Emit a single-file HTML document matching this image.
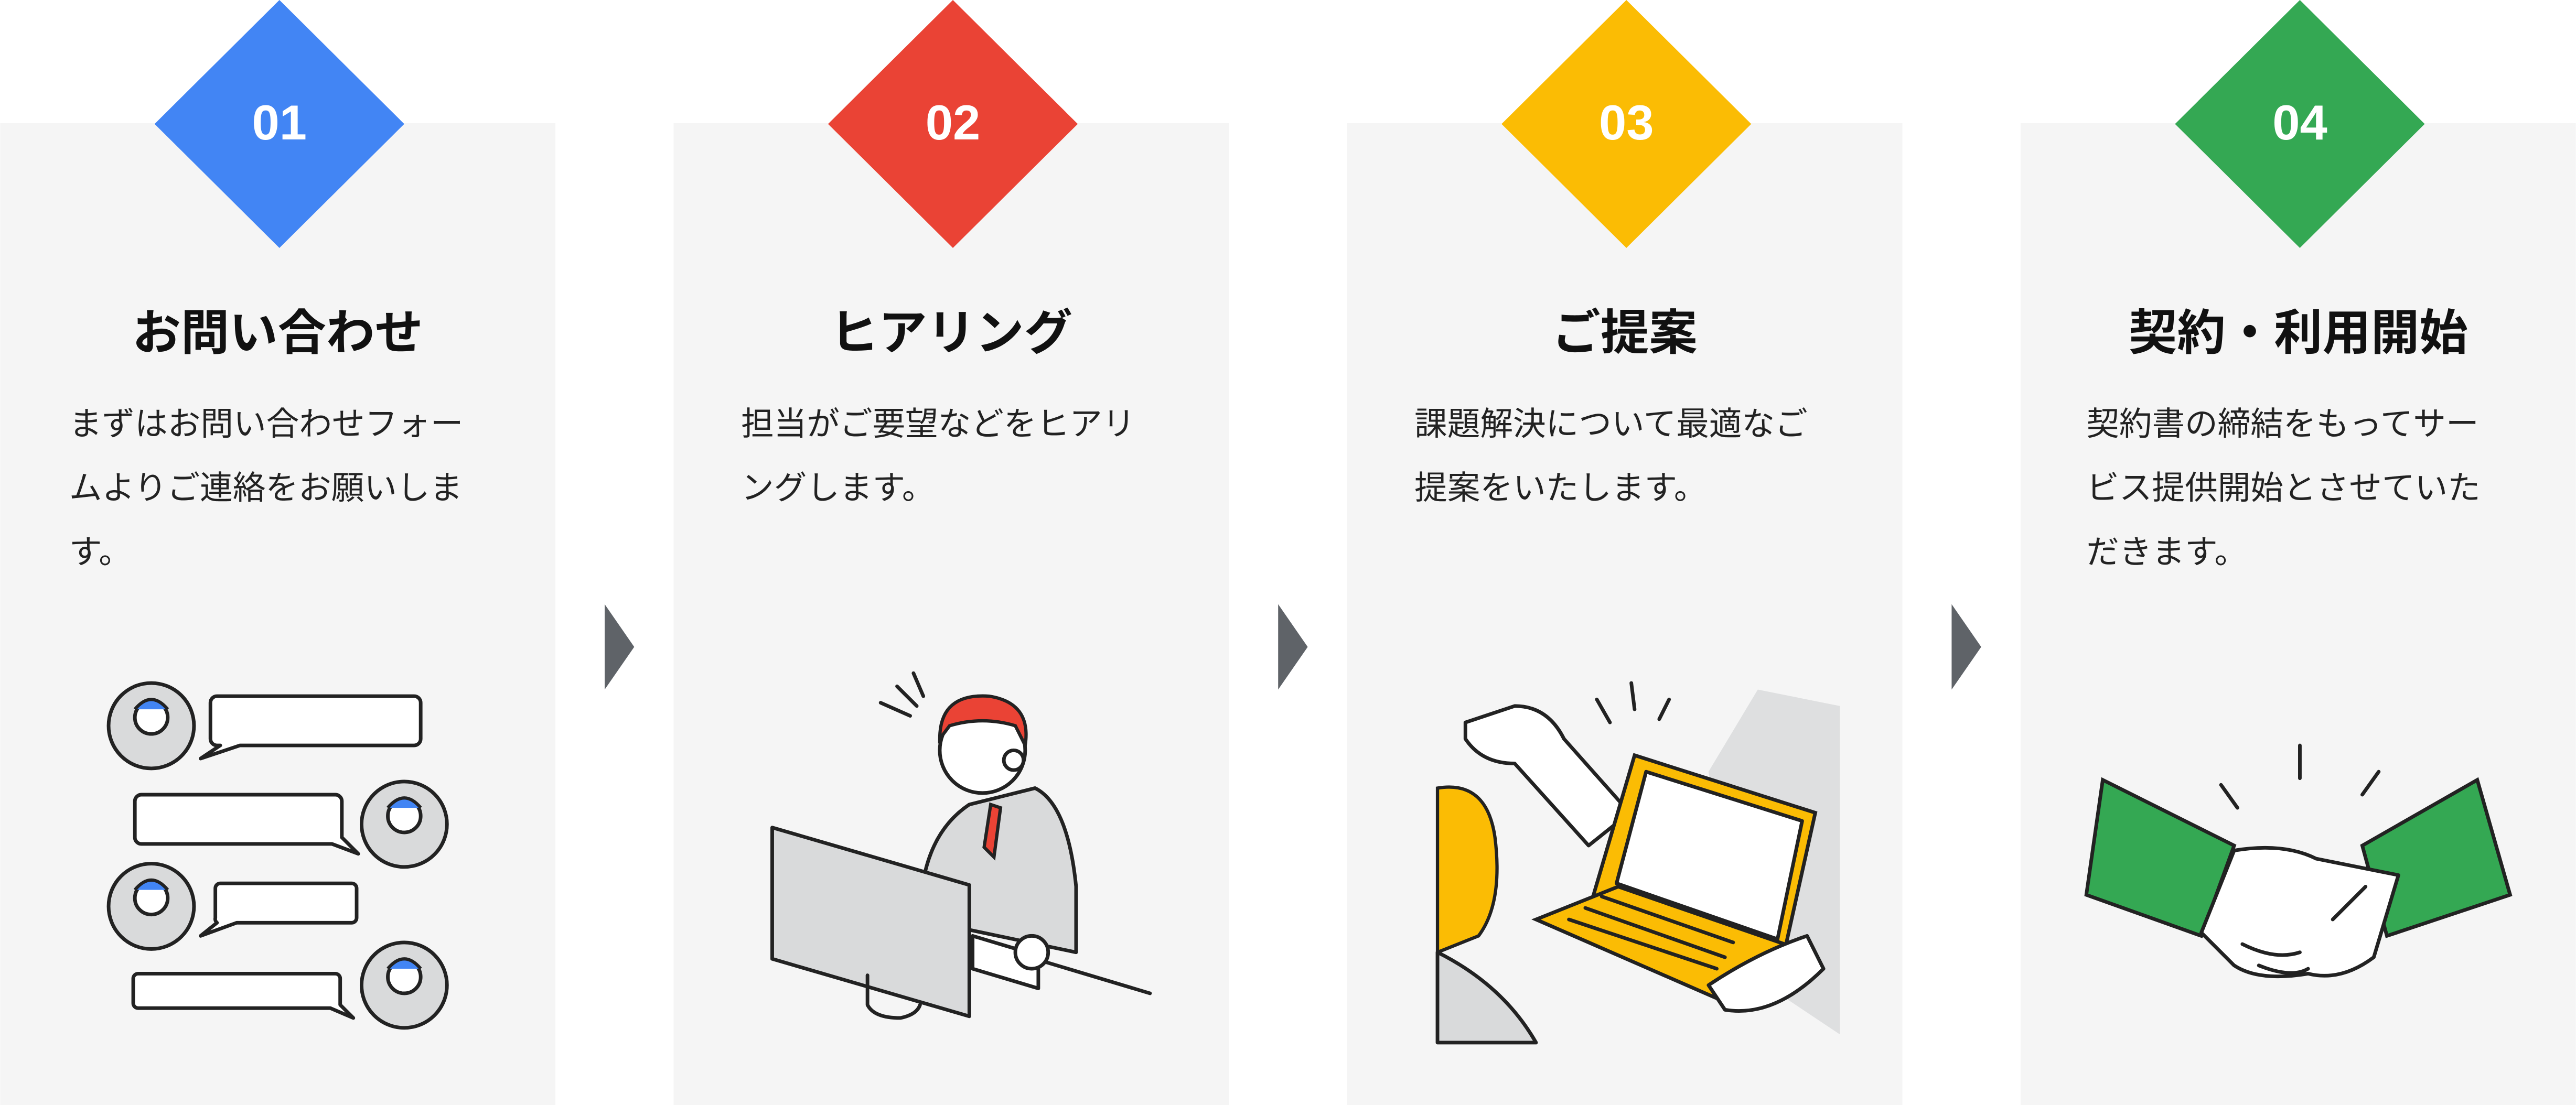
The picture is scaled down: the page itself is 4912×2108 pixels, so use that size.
<!DOCTYPE html>
<html><head><meta charset="utf-8"><style>
html,body{margin:0;padding:0;background:#fff;}
svg{display:block}
.n{font-family:"Liberation Sans","Noto Sans CJK JP",sans-serif;font-weight:700;font-size:30px;fill:#fff;text-anchor:middle}
.t{font-family:"Liberation Sans","Noto Sans CJK JP",sans-serif;font-weight:700;font-size:29.5px;fill:#111;text-anchor:middle}
.b{font-family:"Liberation Sans","Noto Sans CJK JP",sans-serif;font-size:20px;fill:#222}
.k{fill:none;stroke:#222;stroke-width:2.2;stroke-linejoin:round;stroke-linecap:round}
.w{fill:#fff;stroke:#222;stroke-width:2.2;stroke-linejoin:round}
.g{fill:#d9dadb;stroke:#222;stroke-width:2.2;stroke-linejoin:round}
</style></head><body>
<svg width="4912" height="2108" viewBox="0 0 1568 673" xmlns="http://www.w3.org/2000/svg">
<rect width="1568" height="673" fill="#fff"/>
<rect x="0" y="75" width="338" height="598" fill="#f5f5f5"/>
<rect x="410" y="75" width="338" height="598" fill="#f5f5f5"/>
<rect x="820" y="75" width="338" height="598" fill="#f5f5f5"/>
<rect x="1230" y="75" width="338" height="598" fill="#f5f5f5"/>
<polygon points="170,0 246,75.5 170,151 94,75.5" fill="#4285f4"/>
<polygon points="580,0 656,75.5 580,151 504,75.5" fill="#ea4335"/>
<polygon points="990,0 1066,75.5 990,151 914,75.5" fill="#fbbc04"/>
<polygon points="1400,0 1476,75.5 1400,151 1324,75.5" fill="#34a853"/>
<text class="n" x="170" y="85">01</text>
<text class="n" x="580" y="85">02</text>
<text class="n" x="990" y="85">03</text>
<text class="n" x="1400" y="85">04</text>
<text class="t" x="169" y="213">お問い合わせ</text>
<text class="t" x="579" y="213">ヒアリング</text>
<text class="t" x="989" y="213">ご提案</text>
<text class="t" x="1399" y="213">契約・利用開始</text>
<g class="b">
<text x="42" y="265">まずはお問い合わせフォー</text>
<text x="42" y="304">ムよりご連絡をお願いしま</text>
<text x="42" y="343">す。</text>
<text x="451" y="265">担当がご要望などをヒアリ</text>
<text x="451" y="304">ングします。</text>
<text x="861" y="265">課題解決について最適なご</text>
<text x="861" y="304">提案をいたします。</text>
<text x="1270" y="265">契約書の締結をもってサー</text>
<text x="1270" y="304">ビス提供開始とさせていた</text>
<text x="1270" y="343">だきます。</text>
</g>
<polygon points="368,368 386,394 368,420" fill="#5f6368"/>
<polygon points="778,368 796,394 778,420" fill="#5f6368"/>
<polygon points="1188,368 1206,394 1188,420" fill="#5f6368"/>

<!-- Illustration 1 -->
<g>
<circle cx="92" cy="442" r="26" class="g"/><circle cx="92" cy="437" r="10" class="w"/><path d="M82,432 q10,-12 20,0" fill="#4285f4" stroke="#222" stroke-width="2"/>
<path d="M132,424 h120 a4,4 0 0 1 4,4 v22 a4,4 0 0 1 -4,4 h-106 l-24,8 l12,-8 h-2 a4,4 0 0 1 -4,-4 v-22 a4,4 0 0 1 4,-4z" class="w"/>
<circle cx="246" cy="502" r="26" class="g"/><circle cx="246" cy="497" r="10" class="w"/><path d="M236,492 q10,-12 20,0" fill="#4285f4" stroke="#222" stroke-width="2"/>
<path d="M86,484 h118 a4,4 0 0 1 4,4 v22 l10,10 l-16,-6 h-116 a4,4 0 0 1 -4,-4 v-22 a4,4 0 0 1 4,-4z" class="w"/>
<circle cx="92" cy="552" r="26" class="g"/><circle cx="92" cy="547" r="10" class="w"/><path d="M82,542 q10,-12 20,0" fill="#4285f4" stroke="#222" stroke-width="2"/>
<path d="M134,538 h80 a3,3 0 0 1 3,3 v18 a3,3 0 0 1 -3,3 h-70 l-22,8 l10,-8 a3,3 0 0 1 -1,-3 v-18 a3,3 0 0 1 3,-3z" class="w"/>
<circle cx="246" cy="600" r="26" class="g"/><circle cx="246" cy="595" r="10" class="w"/><path d="M236,590 q10,-12 20,0" fill="#4285f4" stroke="#222" stroke-width="2"/>
<path d="M84,593 h120 a3,3 0 0 1 3,3 v16 l8,8 l-14,-6 h-117 a3,3 0 0 1 -3,-3 v-15 a3,3 0 0 1 3,-3z" class="w"/>
</g>

<!-- Illustration 2 -->
<g>
<path d="M560,560 q0,-50 30,-70 l40,-10 q20,10 25,60 v40 z" class="g"/>
<path d="M603,490 l-4,26 l6,6 l4,-30z" fill="#ea4335" stroke="#222" stroke-width="2"/>
<circle cx="598" cy="457" r="26" class="w"/>
<path d="M572,450 q0,-28 30,-26 q26,4 22,30 l-6,-12 q-20,-6 -40,0z" fill="#ea4335" stroke="#222" stroke-width="2"/>
<circle cx="617" cy="463" r="6" class="w"/>
<path class="k" d="M536,428 l18,8 M546,418 l12,12 M556,410 l6,14"/>
<path class="k" d="M600,575 l100,30"/>
<path d="M470,504 l120,35 v80 l-120,-35z" class="g"/>
<path d="M592,570 l40,12 v20 l-40,-12z" class="w"/>
<path class="k" d="M528,594 v18 q4,8 20,8 q10,-2 12,-8"/>
<circle cx="628" cy="580" r="10" class="w"/>
</g>

<!-- Illustration 3 -->
<g>
<path d="M1040,470 l30,-50 l50,10 v200 l-60,-40z" fill="#dedfe0"/>
<path d="M875,480 q30,-5 35,30 q5,40 -10,60 l-25,10z" fill="#fbbc04" stroke="#222" stroke-width="2"/>
<path d="M875,580 q40,20 60,55 h-60z" class="g"/>
<path d="M892,440 l30,-10 q20,0 30,20 l40,45 l-25,20 l-45,-50 q-20,0 -30,-15z" class="w"/>
<path d="M995,460 l110,35 l-20,90 l-115,-40z" fill="#fbbc04" stroke="#222" stroke-width="2.2"/>
<path d="M1002,470 l95,30 l-15,72 l-98,-34z" class="w"/>
<path d="M935,560 l50,-20 l110,38 l-50,30z" fill="#fbbc04" stroke="#222" stroke-width="2.2"/>
<path class="k" d="M955,560 l90,30 M965,553 l85,30 M975,546 l80,28"/>
<path d="M1040,600 q30,-20 60,-30 l10,20 q-30,30 -60,25z" class="w"/>
<path class="k" d="M980,440 l-8,-14 M995,432 l-2,-16 M1010,438 l6,-12"/>
</g>

<!-- Illustration 4 -->
<g>
<path d="M1270,545 l10,-70 l80,40 l-20,55z" fill="#34a853" stroke="#222" stroke-width="2.2"/>
<path d="M1528,545 l-20,-70 l-70,40 l15,55z" fill="#34a853" stroke="#222" stroke-width="2.2"/>
<path d="M1340,568 l20,-50 q30,-5 50,5 l50,10 l-15,50 q-20,15 -40,10 q-30,5 -45,-5z" class="w"/>
<path class="k" d="M1365,575 q20,10 35,5 M1375,588 q20,8 30,2 M1420,560 l20,-20"/>
<path class="k" d="M1352,478 l10,14 M1400,454 v20 M1448,470 l-10,14"/>
</g>
</svg>
</body></html>
